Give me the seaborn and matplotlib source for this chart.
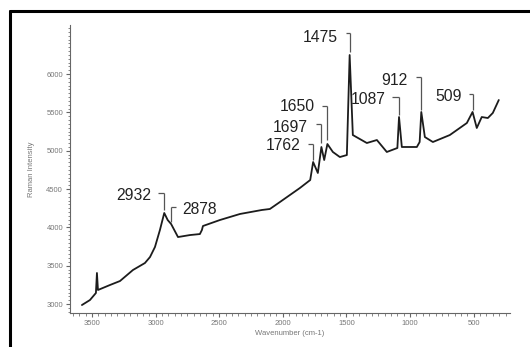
import matplotlib
matplotlib.use("Agg")
import matplotlib.pyplot as plt
from matplotlib.lines import Line2D
from matplotlib.ticker import MultipleLocator
from matplotlib.transforms import offset_copy
import seaborn as sns
import pandas as pd

# Raman spectrum (wavenumber in cm-1, intensity in counts)
wavenumber = [3579, 3516, 3469, 3461, 3453, 3359, 3280, 3178, 3084, 3044,
              3005, 2966, 2932, 2905, 2878, 2824, 2730, 2652, 2636, 2628,
              2495, 2337, 2165, 2102, 2023, 1866, 1785, 1762, 1725, 1697,
              1675, 1650, 1607, 1552, 1497, 1475, 1450, 1340, 1261, 1183,
              1100, 1087, 1065, 947, 925, 912, 884, 821, 688, 554,
              509, 476, 437, 389, 350, 303]
intensity = [2987, 3052, 3144, 3405, 3183, 3248, 3300, 3444, 3535, 3613,
             3744, 3966, 4188, 4096, 4044, 3874, 3900, 3913, 3966, 4018,
             4096, 4175, 4227, 4240, 4331, 4514, 4618, 4853, 4710, 5049,
             4879, 5088, 4984, 4918, 4944, 6249, 5205, 5101, 5140, 4984,
             5036, 5440, 5049, 5049, 5114, 5506, 5179, 5114, 5205, 5362,
             5506, 5297, 5440, 5427, 5493, 5662]

# Annotated band positions
peak_labels = [2932, 2878, 1762, 1697, 1650, 1475, 1087, 912, 509]

# Leader layout: bracket height, leader bottom, bracket width (px),
# text gap (px), text drop (px), side (-1 text left, +1 text right)
bracket_top = [4449, 4266, 5088, 5349, 5584, 6537, 5701, 5962, 5741]
bracket_bottom = [4227, 4070, 4879, 5101, 5140, 6289, 5466, 5532, 5532]
bracket_w = [6, 5, 5, 5, 5, 4, 7, 5, 4]
text_gap = [7, 6, 8, 9, 8, 8, 6, 9, 7]
text_drop = [3, 2, 1, 3, 1, 5, 2, 3, 3]
side = [-1, 1, -1, -1, -1, -1, -1, -1, -1]

df = pd.DataFrame({"Wavenumber": wavenumber, "Intensity": intensity})

sns.set_theme(style="ticks")
plt.rcParams["font.family"] = ["Liberation Sans", "DejaVu Sans"]

fig = plt.figure(figsize=(5.30, 3.47), dpi=100)
ax = fig.add_axes([0.132, 0.098, 0.830, 0.830])

sns.lineplot(data=df, x="Wavenumber", y="Intensity", ax=ax, sort=False,
             estimator=None, color="#1c1c1c", linewidth=1.3)

ax.set_xlim(3673, 216)
ax.set_ylim(2883, 6641)
ax.xaxis.set_major_locator(MultipleLocator(500))
ax.xaxis.set_minor_locator(MultipleLocator(50))
ax.yaxis.set_minor_locator(MultipleLocator(50))
ax.set_yticks([3000, 3500, 4000, 4500, 5000, 5500, 6000])
ax.tick_params(axis="both", which="major", length=3, width=0.8,
               color="#666666", labelsize=5.5, labelcolor="#777777", pad=2)
ax.tick_params(axis="both", which="minor", length=1.8, width=0.7,
               color="#888888")
for s in ("top", "right"):
    ax.spines[s].set_visible(False)
for s in ("left", "bottom"):
    ax.spines[s].set_color("#666666")
    ax.spines[s].set_linewidth(0.8)

ax.set_xlabel("Wavenumber (cm-1)", fontsize=5.5, color="#777777", labelpad=2)
ax.set_ylabel("Raman Intensity", fontsize=5.5, color="#777777", labelpad=8)

# Peak labels with bracket leaders
lead = dict(color="#555555", lw=0.9, solid_capstyle="butt")
for lab, top, bot, w, gap, drop, sd in zip(peak_labels, bracket_top,
                                           bracket_bottom, bracket_w,
                                           text_gap, text_drop, side):
    # vertical leader down towards the band
    ax.plot([lab, lab], [top, bot], **lead)
    # short horizontal arm, measured in pixels from the band column
    x0, y0 = ax.transData.transform((lab, top))
    fig.add_artist(Line2D([x0, x0 + sd * w], [y0, y0], transform=None,
                          **lead))
    ttr = offset_copy(ax.transData, fig=fig, x=sd * (w + gap), y=-drop,
                      units="dots")
    ax.text(lab, top, str(lab), transform=ttr, fontsize=11.3,
            color="#222222", ha="right" if sd < 0 else "left", va="center")

# Frame lines along the top and left edge of the figure
fig.add_artist(Line2D([10 / 530, 1.0], [1 - 11 / 347, 1 - 11 / 347],
                      color="black", lw=2.2, transform=fig.transFigure))
fig.add_artist(Line2D([10 / 530, 10 / 530], [0.0, 1 - 11 / 347],
                      color="black", lw=2.2, transform=fig.transFigure))

fig.savefig("out.png", dpi=100, facecolor="white")
